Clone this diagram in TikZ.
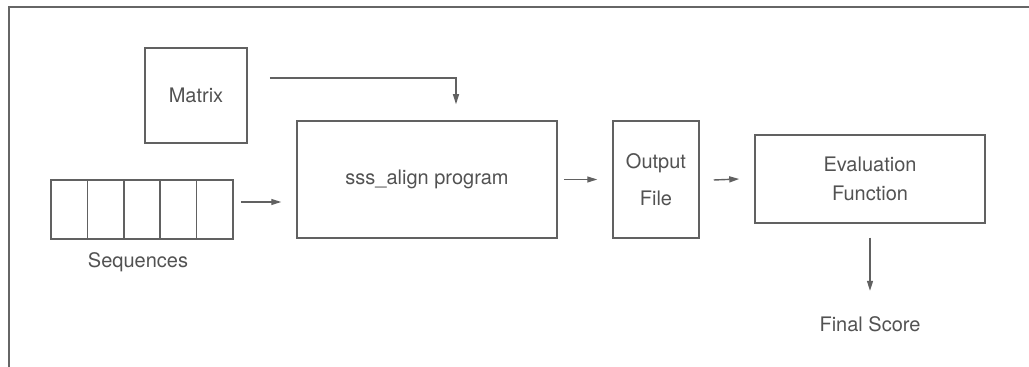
\documentclass[tikz,border=0pt]{standalone}
\usepackage{fontspec}
\setmainfont{TeX Gyre Heros}
\usetikzlibrary{arrows.meta}
\begin{document}
\begin{tikzpicture}[
    x=1pt, y=1pt,
    every node/.style={text=black!68, font=\fontsize{20}{24}\selectfont},
    box/.style={draw=black!62, line width=1.5pt, minimum width=#1},
    box/.default=100pt,
    cell/.style={draw=black!62, line width=1.5pt, minimum width=36.4pt, minimum height=59pt, inner sep=0pt},
    arrow/.style={-{Triangle[length=10pt,width=6pt]}, line width=1.4pt, draw=black!62}
]
\useasboundingbox (0,0) rectangle (1029,367);

% Frame
\draw[black!60, line width=1.2pt] (9,0) -- (9,360) -- (1029,360);

% Inputs
\node[box=102pt, minimum height=95pt] (matrix) at (196,271.5) {Matrix};
\foreach \i in {0,...,4}
    \node[cell] (c\i) at (69.2+36.4*\i,157.5) {};
\node (seqlabel) at (138,105) {Sequences};

% Program and output
\node[box=260pt, minimum height=117pt] (sss) at (427,187.5) {sss\_align program};
\node[box=86pt, minimum height=117pt, align=center] (output) at (656,187.5) {Output\\[13pt]File};
\node[box=230pt, minimum height=88pt, align=center] (eval) at (870,188) {Evaluation\\[5pt]Function};
\node (score) at (870,43) {Final Score};

% Arrows
\draw[arrow] ([shift={(22pt,17.5pt)}]matrix.east) -| ([shift={(29pt,16pt)}]sss.north);
\draw[arrow] ([shift={(7pt,7.5pt)}]c4.east) -- ([shift={(-15pt,-22.5pt)}]sss.west);
\draw[arrow] ([xshift=6pt]sss.east) -- ([xshift=-15pt]output.west);
\draw[arrow] ([xshift=14pt,yshift=-0.5pt]output.east) -- ([xshift=-15pt]eval.west);
\draw[arrow] ([yshift=-14pt]eval.south) -- ([yshift=22pt]score.north);
\end{tikzpicture}
\end{document}
